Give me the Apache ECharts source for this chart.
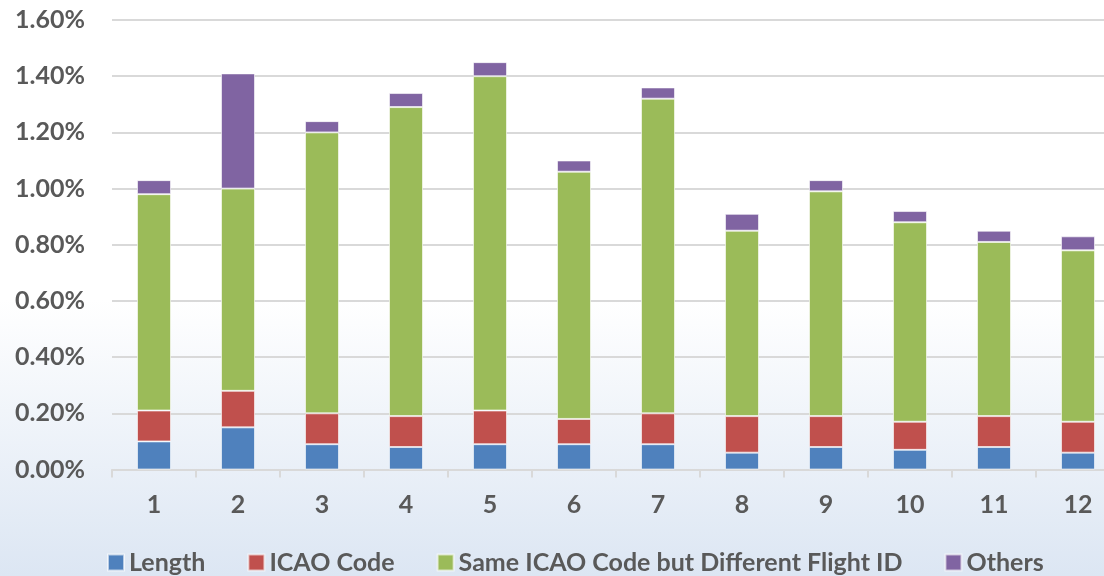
<!DOCTYPE html>
<html>
<head>
<meta charset="utf-8">
<script src="https://cdn.jsdelivr.net/npm/echarts@6/dist/echarts.min.js"></script>
<style>
html,body{margin:0;padding:0;}
#c{width:1104px;height:576px;background:linear-gradient(to bottom,#ffffff 0%,#ffffff 52%,#dce6f3 100%);}
</style>
</head>
<body>
<div id="c"></div>
<script>
const categories = ['1','2','3','4','5','6','7','8','9','10','11','12'];
const lengthVals = [0.10,0.15,0.09,0.08,0.09,0.09,0.09,0.06,0.08,0.07,0.08,0.06];
const icaoVals   = [0.11,0.13,0.11,0.11,0.12,0.09,0.11,0.13,0.11,0.10,0.11,0.11];
const sameVals   = [0.77,0.72,1.00,1.10,1.19,0.88,1.12,0.66,0.80,0.71,0.62,0.61];
const otherVals  = [0.05,0.41,0.04,0.05,0.05,0.04,0.04,0.06,0.04,0.04,0.04,0.05];
const seriesNames = ['Length','ICAO Code','Same ICAO Code but Different Flight ID','Others'];
const colors = ['#4f81bd','#c0504d','#9bbb59','#8064a2'];

const font = 'Lato, "Open Sans", sans-serif';
const txt = '#595959';
const chart = echarts.init(document.getElementById('c'), null, {renderer:'canvas'});
const dataSets = [lengthVals, icaoVals, sameVals, otherVals];
chart.setOption({
  backgroundColor: 'transparent',
  animation: false,
  grid: {left: 112, width: 1008, top: 20, height: 449.5, outerBoundsMode: 'none', containLabel: false},
  legend: {
    left: 102, top: 545,
    itemWidth: 16, itemHeight: 16, itemGap: 42,
    icon: 'rect',
    textStyle: {fontFamily: font, fontWeight: 'bold', fontSize: 25, color: txt},
    data: seriesNames
  },
  xAxis: {
    type: 'category', data: categories, boundaryGap: true,
    axisLine: {lineStyle: {color: '#d9d9d9', width: 2}},
    axisTick: {show: true, length: 8, lineStyle: {color: '#d9d9d9', width: 2}},
    axisLabel: {margin: 23, fontFamily: font, fontWeight: 'bold', fontSize: 25, color: txt}
  },
  yAxis: {
    type: 'value', min: 0, max: 1.6, interval: 0.2,
    axisLine: {show: false}, axisTick: {show: false},
    splitLine: {lineStyle: {color: '#d9d9d9', width: 2}},
    axisLabel: {margin: 27, fontFamily: font, fontWeight: 'bold', fontSize: 25, color: txt,
      formatter: v => v.toFixed(2) + '%'}
  },
  series: dataSets.map((d, i) => ({
    name: seriesNames[i], type: 'bar', stack: 'total', data: d,
    barWidth: 34,
    itemStyle: {color: colors[i], borderColor: 'rgba(255,255,255,0.6)', borderWidth: 1}
  }))
});
</script>
</body>
</html>
